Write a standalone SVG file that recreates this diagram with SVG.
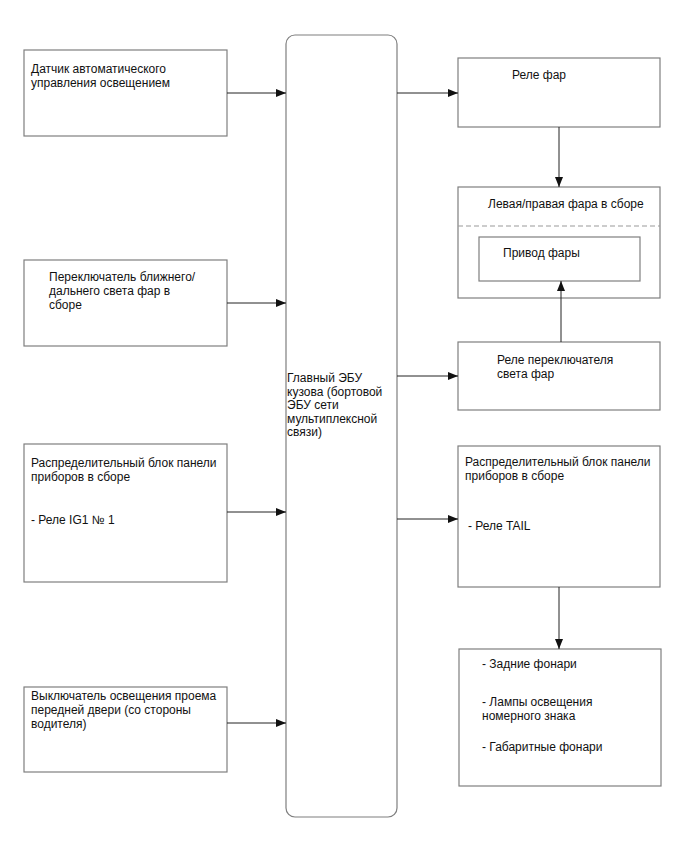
<svg xmlns="http://www.w3.org/2000/svg" width="688" height="852" viewBox="0 0 688 852">
<style>
.box{fill:#fff;stroke:#7f7f7f;stroke-width:1.2}
.t{font-family:"Liberation Sans",Arial,sans-serif;font-size:12px;fill:#111}
.c{stroke:#222;stroke-width:1;fill:none;marker-end:url(#ah)}
.dash{stroke:#9a9a9a;stroke-width:1.2;stroke-dasharray:5,3;fill:none}
</style>
<defs>
<marker id="ah" viewBox="0 0 10 8" refX="10" refY="4" markerWidth="10" markerHeight="8" markerUnits="userSpaceOnUse" orient="auto">
<path d="M0,0 L10,4 L0,8 z" fill="#111"/>
</marker>
</defs>
<rect width="688" height="852" fill="#fff"/>
<g id="n-sensor">
<rect class="box" x="24" y="50" width="203" height="86"/>
<text class="t" x="31" y="73">Датчик автоматического</text>
<text class="t" x="31" y="87">управления освещением</text>
</g>
<g id="n-switch">
<rect class="box" x="24" y="260" width="203" height="86"/>
<text class="t" x="49" y="281">Переключатель ближнего/</text>
<text class="t" x="49" y="295">дальнего света фар в</text>
<text class="t" x="49" y="309">сборе</text>
</g>
<g id="n-jb-left">
<rect class="box" x="24" y="444" width="203" height="138"/>
<text class="t" x="31" y="467">Распределительный блок панели</text>
<text class="t" x="31" y="481">приборов в сборе</text>
<text class="t" x="31" y="524">- Реле IG1 № 1</text>
</g>
<g id="n-door">
<rect class="box" x="24" y="687" width="203" height="85"/>
<text class="t" x="31" y="700">Выключатель освещения проема</text>
<text class="t" x="31" y="714">передней двери (со стороны</text>
<text class="t" x="31" y="728">водителя)</text>
</g>
<g id="n-ecu">
<rect class="box" x="286" y="35" width="111" height="782" rx="9" ry="9"/>
<text class="t" x="287" y="382">Главный ЭБУ</text>
<text class="t" x="287" y="395.5">кузова (бортовой</text>
<text class="t" x="287" y="409">ЭБУ сети</text>
<text class="t" x="287" y="422.5">мультиплексной</text>
<text class="t" x="287" y="436">связи)</text>
</g>
<g id="n-relay">
<rect class="box" x="458" y="58" width="202" height="69"/>
<text class="t" x="512" y="79">Реле фар</text>
</g>
<g id="n-headlamp">
<rect class="box" x="458" y="187" width="202" height="111"/>
<text class="t" x="488" y="208">Левая/правая фара в сборе</text>
<line class="dash" x1="458" y1="226" x2="660" y2="226"/>
</g>
<g id="n-actuator">
<rect class="box" x="479" y="237" width="161" height="44"/>
<text class="t" x="503" y="257">Привод фары</text>
</g>
<g id="n-dimmer">
<rect class="box" x="458" y="342" width="202" height="68"/>
<text class="t" x="497" y="364">Реле переключателя</text>
<text class="t" x="497" y="378">света фар</text>
</g>
<g id="n-jb-right">
<rect class="box" x="458" y="446" width="202" height="141"/>
<text class="t" x="465" y="466">Распределительный блок панели</text>
<text class="t" x="465" y="480">приборов в сборе</text>
<text class="t" x="468" y="530">- Реле TAIL</text>
</g>
<g id="n-lamps">
<rect class="box" x="459" y="649" width="202" height="137"/>
<text class="t" x="482" y="668">- Задние фонари</text>
<text class="t" x="482" y="706">- Лампы освещения</text>
<text class="t" x="482" y="720">номерного знака</text>
<text class="t" x="482" y="751">- Габаритные фонари</text>
</g>
<g id="connectors">
<line class="c" x1="227" y1="93" x2="286" y2="93"/>
<line class="c" x1="227" y1="303" x2="286" y2="303"/>
<line class="c" x1="227" y1="512" x2="286" y2="512"/>
<line class="c" x1="227" y1="723" x2="286" y2="723"/>
<line class="c" x1="397" y1="93" x2="458" y2="93"/>
<line class="c" x1="397" y1="376" x2="458" y2="376"/>
<line class="c" x1="397" y1="519" x2="458" y2="519"/>
<line class="c" x1="559" y1="127" x2="559" y2="187"/>
<line class="c" x1="561" y1="342" x2="561" y2="281"/>
<line class="c" x1="559" y1="587" x2="559" y2="649"/>
</g>
</svg>
